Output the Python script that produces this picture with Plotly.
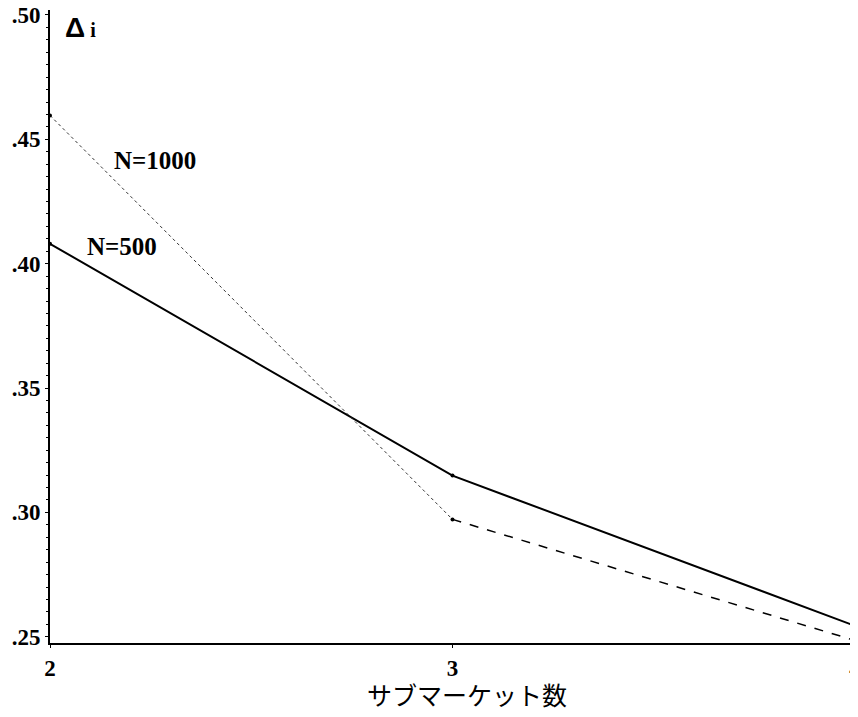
import plotly.graph_objects as go

submarkets = [2, 3, 4]
n500 = [0.408, 0.3148, 0.2544]
n1000 = [0.4596, 0.2972, 0.2485]
ytick_vals = [0.25, 0.30, 0.35, 0.40, 0.45, 0.50]
ytick_text = [".25", ".30", ".35", ".40", ".45", ".50"]
xtick_vals = [2, 3, 4]
xtick_text = ["2", "3", "4"]
x_title = "サブマーケット数"
y_title = "Δ"

fig = go.Figure()
# N=500 solid line
fig.add_trace(go.Scatter(x=submarkets, y=n500, mode="lines+markers",
                         line=dict(color="black", width=2),
                         marker=dict(size=4, color="black"), showlegend=False))
# N=1000: dotted from 2 to 3, dashed from 3 to 4
fig.add_trace(go.Scatter(x=submarkets[:2], y=n1000[:2], mode="lines",
                         line=dict(color="#333", width=1, dash="dot"), showlegend=False))
fig.add_trace(go.Scatter(x=submarkets[1:], y=n1000[1:], mode="lines",
                         line=dict(color="black", width=1.5, dash="dash"), showlegend=False))
fig.add_trace(go.Scatter(x=submarkets, y=n1000, mode="markers",
                         marker=dict(size=4, color="black"), showlegend=False))

fig.add_annotation(x=2.26, y=0.4416, text="<b>N=1000</b>", showarrow=False,
                   font=dict(family="Liberation Serif", size=25, color="black"))
fig.add_annotation(x=2.18, y=0.407, text="<b>N=500</b>", showarrow=False,
                   font=dict(family="Liberation Serif", size=25, color="black"))
fig.add_annotation(xref="paper", yref="paper", x=0.016, y=0.972, xanchor="left",
                   yanchor="middle",
                   text="<b>" + y_title + "<span style='font-size:20px;font-family:Liberation Serif'> i</span></b>",
                   showarrow=False,
                   font=dict(family="Liberation Sans", size=28, color="black"))
fig.add_annotation(xref="paper", yref="paper", x=0.518, y=-0.081, xanchor="center",
                   yanchor="middle", text=x_title, showarrow=False,
                   font=dict(family="Noto Sans CJK JP", size=25, color="black"))

fig.update_xaxes(range=[2, 4.0], tickvals=xtick_vals,
                 ticktext=["<b>" + t + "</b>" for t in xtick_text],
                 showline=True, linecolor="black", linewidth=2,
                 ticks="outside", ticklen=3, tickcolor="black",
                 showgrid=False, zeroline=False, automargin=False,
                 ticklabeloverflow="allow",
                 tickfont=dict(family="Liberation Serif", size=23, color="black"))
fig.update_yaxes(range=[0.2475, 0.502], tickvals=ytick_vals,
                 ticktext=["<b>" + t + "</b>" for t in ytick_text],
                 showline=True, linecolor="black", linewidth=2,
                 ticks="outside", ticklen=3, tickcolor="black",
                 minor=dict(dtick=0.005, ticks="outside", ticklen=2, tickcolor="black"),
                 showgrid=False, zeroline=False, automargin=False,
                 ticklabeloverflow="allow",
                 tickfont=dict(family="Liberation Serif", size=23, color="black"))

fig.update_layout(width=850, height=709, plot_bgcolor="white", paper_bgcolor="white",
                  margin=dict(l=42, r=3, t=2, b=74),
                  font=dict(family="Liberation Serif"))
fig.write_html("out.html")
